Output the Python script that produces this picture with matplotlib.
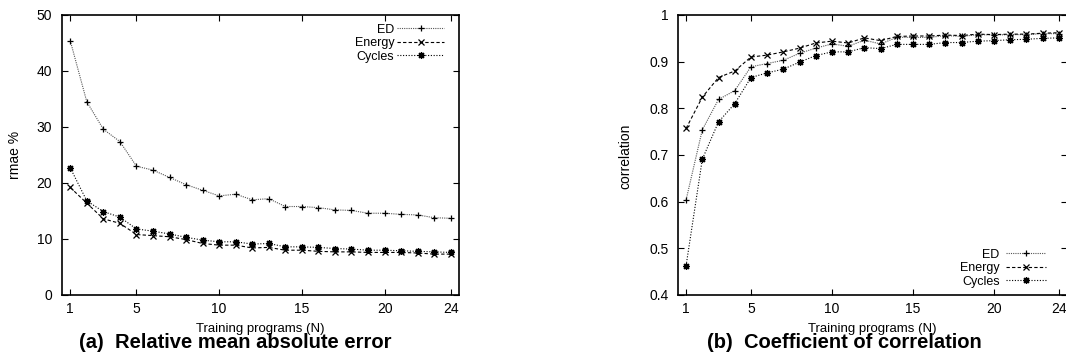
import numpy as np
import matplotlib
matplotlib.use('Agg')
import matplotlib.pyplot as plt

# --- Data ---
N = list(range(1, 25))

rmae_ed = [45.4, 34.5, 29.6, 27.4, 23.0, 22.3, 21.0, 19.7, 18.7, 17.7, 18.0, 17.0,
           17.2, 15.8, 15.8, 15.6, 15.2, 15.1, 14.6, 14.6, 14.4, 14.3, 13.8, 13.7]
rmae_energy = [19.2, 16.4, 13.6, 12.8, 10.8, 10.6, 10.4, 9.9, 9.2, 8.9, 8.9, 8.4,
               8.5, 8.0, 8.0, 7.8, 7.7, 7.7, 7.6, 7.6, 7.6, 7.5, 7.3, 7.3]
rmae_cycles = [22.7, 16.8, 14.9, 13.9, 11.8, 11.4, 10.9, 10.3, 9.8, 9.5, 9.5, 9.1,
               9.2, 8.6, 8.6, 8.5, 8.3, 8.2, 8.0, 8.0, 7.9, 7.8, 7.7, 7.6]

corr_ed = [0.604, 0.754, 0.819, 0.838, 0.889, 0.896, 0.903, 0.918, 0.929, 0.938, 0.933, 0.946,
           0.938, 0.952, 0.952, 0.952, 0.956, 0.954, 0.958, 0.957, 0.958, 0.958, 0.960, 0.960]
corr_energy = [0.757, 0.824, 0.866, 0.880, 0.910, 0.914, 0.921, 0.929, 0.940, 0.944, 0.940, 0.951,
               0.945, 0.954, 0.955, 0.955, 0.957, 0.956, 0.959, 0.958, 0.959, 0.959, 0.961, 0.962]
corr_cycles = [0.463, 0.691, 0.771, 0.810, 0.866, 0.876, 0.884, 0.899, 0.913, 0.921, 0.921, 0.930,
               0.928, 0.937, 0.937, 0.937, 0.941, 0.941, 0.944, 0.945, 0.947, 0.948, 0.950, 0.951]

xticks = [1, 5, 10, 15, 20, 24]
rmae_ticks = [0, 10, 20, 30, 40, 50]
corr_ticks = [0.4, 0.5, 0.6, 0.7, 0.8, 0.9, 1.0]
corr_ticklabels = ['0.4', '0.5', '0.6', '0.7', '0.8', '0.9', '1']

plt.rcParams['font.family'] = ['Liberation Sans', 'DejaVu Sans']

W, H = 1066, 358
fig = plt.figure(figsize=(W / 100, H / 100), dpi=100)

# asterisk marker (gnuplot point type 3)
star = (8, 2, 0)


def style_axes(ax):
    ax.tick_params(direction='in', length=4, width=0.8, labelsize=10,
                   top=True, right=True)
    ax.tick_params(axis='y', pad=7)
    ax.tick_params(axis='x', pad=5)
    for s in ax.spines.values():
        s.set_linewidth(1.2)


def draw(ax, ed, energy, cycles):
    ax.plot(N, ed, color='#555555', linestyle=(0, (1, 1)), linewidth=0.8,
            marker='+', markersize=5, markeredgewidth=0.9, markeredgecolor='black', label='ED')
    ax.plot(N, energy, color='black', linestyle=(0, (3, 2)), linewidth=0.8,
            marker='x', markersize=4, markeredgewidth=0.9, label='Energy')
    ax.plot(N, cycles, color='black', linestyle=(0, (1, 1.5)), linewidth=0.8,
            marker=star, markersize=5, markeredgewidth=0.9, label='Cycles')


# --- (a) rmae ---
ax1 = fig.add_axes([62 / W, (H - 295) / H, (459 - 62) / W, 280 / H])
draw(ax1, rmae_ed, rmae_energy, rmae_cycles)
ax1.set_xlim(0.5, 24.5)
ax1.set_ylim(0, 50)
ax1.set_xticks(xticks)
ax1.set_yticks(rmae_ticks)
style_axes(ax1)
ax1.set_xlabel('Training programs (N)', fontsize=9.5, labelpad=5)
fig.text(15 / W, 1 - 155 / H, 'rmae %', fontsize=10, rotation=90, ha='center', va='center')
ax1.legend(loc='upper right', bbox_to_anchor=(0.985, 1.0), frameon=False, markerfirst=False,
           fontsize=9, handlelength=3.8, handletextpad=0.2, labelspacing=0.12, borderaxespad=0.3)

# --- (b) correlation ---
ax2 = fig.add_axes([678 / W, (H - 295) / H, (1067 - 678) / W, 280 / H])
draw(ax2, corr_ed, corr_energy, corr_cycles)
ax2.set_xlim(0.5, 24.5)
ax2.set_ylim(0.4, 1.0)
ax2.set_xticks(xticks)
ax2.set_yticks(corr_ticks)
ax2.set_yticklabels(corr_ticklabels)
style_axes(ax2)
ax2.set_xlabel('Training programs (N)', fontsize=9.5, labelpad=5)
fig.text(625 / W, 1 - 156 / H, 'correlation', fontsize=10, rotation=90, ha='center', va='center')
ax2.legend(loc='lower right', bbox_to_anchor=(0.965, 0.0), frameon=False, markerfirst=False,
           fontsize=9, handlelength=3.2, handletextpad=0.5, labelspacing=0.12, borderaxespad=0.2)

fig.text(235 / W, 1 - 343 / H, '(a)  Relative mean absolute error', fontsize=14.5,
         fontweight='bold', ha='center', va='center')
fig.text(844 / W, 1 - 343 / H, '(b)  Coefficient of correlation', fontsize=14.5,
         fontweight='bold', ha='center', va='center')

fig.savefig('out.png', dpi=100)
